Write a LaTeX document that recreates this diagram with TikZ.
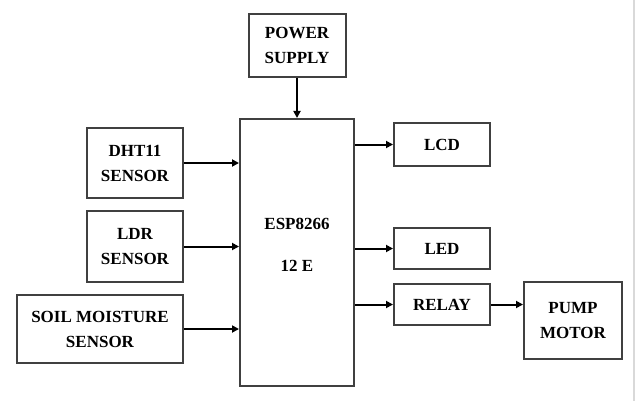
\documentclass[tikz,border=0pt]{standalone}
\usepackage{fontspec}
\setmainfont{Liberation Serif}
\usetikzlibrary{arrows.meta,positioning}

\begin{document}
\begin{tikzpicture}[
    x=1pt, y=-1pt,
    block/.style={draw=black!75, line width=2pt, align=center, inner sep=0pt,
        font=\bfseries\fontsize{17}{25}\selectfont},
    arrow/.style={-{Triangle[length=7pt,width=7pt]}, line width=2pt}
]
\useasboundingbox (0,0) rectangle (639,401);
\fill[white] (0,0) rectangle (639,401);
\draw[black!15, line width=1.5pt] (634,0) -- (634,401);

\node[block, minimum width=114pt, minimum height=267pt] (esp) at (297,252.5) {};
\node[font=\bfseries\fontsize{17}{25}\selectfont, align=center] (esplabel) at (297,245) {ESP8266\\[17pt]12 E};
\node[block, minimum width=97pt, minimum height=63pt, above=40pt of esp] (power) {POWER\\SUPPLY};

\node[block, minimum width=96pt, minimum height=70pt] (dht) at (135,163) {DHT11\\SENSOR};
\node[block, minimum width=96pt, minimum height=71pt, below=11pt of dht] (ldr) {LDR\\SENSOR};
\node[block, minimum width=166pt, minimum height=68pt, below=11pt of ldr.south east, anchor=north east] (soil) {SOIL MOISTURE\\SENSOR};

\node[block, minimum width=96pt, minimum height=43pt] (lcd) at (442,144.5) {LCD};
\node[block, minimum width=96pt, minimum height=41pt] (led) at (442,248.5) {LED};
\node[block, minimum width=96pt, minimum height=41pt, below=13pt of led] (relay) {RELAY};
\node[block, minimum width=98pt, minimum height=77pt] (pump) at (573,320.5) {PUMP\\MOTOR};

% inputs
\draw[arrow] (power) -- (esp.north -| power);
\draw[arrow] (dht) -- (dht -| esp.west);
\draw[arrow] (ldr) -- (ldr -| esp.west);
\draw[arrow] (soil) -- (soil -| esp.west);
% outputs
\draw[arrow] (esp.east |- lcd) -- (lcd);
\draw[arrow] (esp.east |- led) -- (led);
\draw[arrow] (esp.east |- relay) -- (relay);
\draw[arrow] (relay) -- (relay -| pump.west);
\end{tikzpicture}
\end{document}
